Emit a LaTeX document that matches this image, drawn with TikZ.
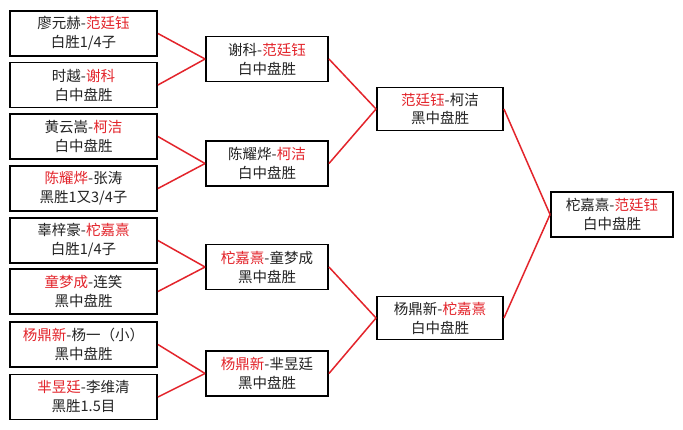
\documentclass[tikz,border=0pt]{standalone}
\usepackage{fontspec}
\newfontfamily\cjk{Noto Sans CJK SC}
\definecolor{win}{HTML}{E3242B}
\definecolor{txt}{HTML}{222222}
\newcommand\W[1]{\textcolor{win}{#1}}
\begin{document}
\begin{tikzpicture}[x=1pt,y=-1pt,
  box/.style={draw=black, line width=1.9pt, align=center, inner sep=0pt,
    font=\cjk\fontsize{14.5}{19}\selectfont, text=txt, minimum height=45pt},
  c1/.style={box, minimum width=147pt},
  c2/.style={box, minimum width=122pt},
  c3/.style={box, minimum width=126pt, minimum height=43pt},
  c4/.style={box, minimum width=122pt},
  link/.style={draw=win, line width=1.5pt}]
\fill[white] (0,0) rectangle (683,429);
\useasboundingbox (0,0) rectangle (683,429);
% column 1
\node[c1] (a1) at (83.5,33.5) {廖元赫-\W{范廷钰}\\白胜1/4子};
\node[c1] (a2) at (83.5,85) {时越-\W{谢科}\\白中盘胜};
\node[c1] (a3) at (83.5,136.5) {黄云嵩-\W{柯洁}\\白中盘胜};
\node[c1] (a4) at (83.5,188.5) {\W{陈耀烨}-张涛\\黑胜1又3/4子};
\node[c1] (a5) at (83.5,240.5) {辜梓豪-\W{柁嘉熹}\\白胜1/4子};
\node[c1] (a6) at (83.5,291.5) {\W{童梦成}-连笑\\黑中盘胜};
\node[c1] (a7) at (83.5,344.5) {\W{杨鼎新}-杨一（小）\\黑中盘胜};
\node[c1] (a8) at (83.5,397) {\W{芈昱廷}-李维清\\黑胜1.5目};
% column 2
\node[c2] (b1) at (267,59) {谢科-\W{范廷钰}\\白中盘胜};
\node[c2] (b2) at (267,163.5) {陈耀烨-\W{柯洁}\\白中盘胜};
\node[c2] (b3) at (267,267) {\W{柁嘉熹}-童梦成\\黑中盘胜};
\node[c2] (b4) at (267,373.5) {\W{杨鼎新}-芈昱廷\\黑中盘胜};
% column 3
\node[c3] (d1) at (440,109) {\W{范廷钰}-柯洁\\黑中盘胜};
\node[c3] (d2) at (440,318) {杨鼎新-\W{柁嘉熹}\\白中盘胜};
% column 4
\node[c4] (f) at (612,214.5) {柁嘉熹-\W{范廷钰}\\白中盘胜};
% connectors
\draw[link] (a1.east) -- (b1.west);
\draw[link] (a2.east) -- (b1.west);
\draw[link] (a3.east) -- (b2.west);
\draw[link] (a4.east) -- (b2.west);
\draw[link] (a5.east) -- (b3.west);
\draw[link] (a6.east) -- (b3.west);
\draw[link] (a7.east) -- (b4.west);
\draw[link] (a8.east) -- (b4.west);
\draw[link] (b1.east) -- (d1.west);
\draw[link] (b2.east) -- (d1.west);
\draw[link] (b3.east) -- (d2.west);
\draw[link] (b4.east) -- (d2.west);
\draw[link] (d1.east) -- (f.west);
\draw[link] (d2.east) -- (f.west);
\end{tikzpicture}
\end{document}
